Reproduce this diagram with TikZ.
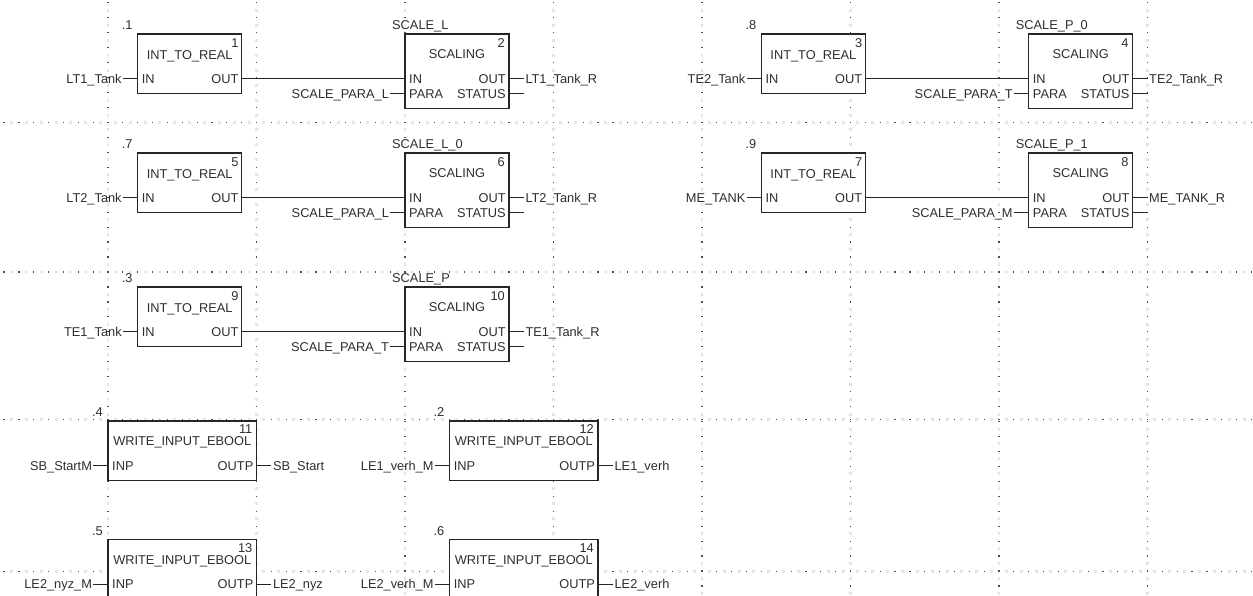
\documentclass[tikz,border=0pt]{standalone}
\usepackage{fontspec}
\setmainfont{Liberation Sans}
\usetikzlibrary{calc}
\tikzset{
  fbbox/.style={draw=black!85, line width=1.3pt, fill=white, rectangle, inner sep=0pt, outer sep=0pt, anchor=north west},
  fbtext/.style={font=\fontsize{12.8}{15}\selectfont, text=black!82, inner sep=0pt, text height=9.2pt, text depth=0pt},
  wire/.style={draw=black!85, line width=1pt},
  gdot/.style={fill=black!70},
  gsmudge/.style={fill=black!10},
}
% INT_TO_REAL block: name, x, y, number, order, input label
\newcommand{\FBitr}[6]{%
  \node[fbbox, minimum width=103.95pt, minimum height=59.8pt] (#1) at (#2,#3) {};
  \node[fbtext] (#1-t) at ($(#1.north)+(0,20.5)$) {INT\_TO\_REAL};
  \node[fbtext, anchor=east] (#1-n) at ($(#1.north east)+(-3,8.5)$) {#4};
  \node[fbtext, anchor=east] (#1-o) at ($(#1.north west)+(-5,-9)$) {#5};
  \coordinate (#1-in) at ($(#1.north west)+(0,44.85)$);
  \coordinate (#1-out) at ($(#1.north east)+(0,44.85)$);
  \node[fbtext, anchor=west] (#1-inp) at ($(#1-in)+(4,0)$) {IN};
  \node[fbtext, anchor=east] (#1-outp) at ($(#1-out)+(-3,0)$) {OUT};
  \coordinate (#1-inw) at ($(#1-in)+(-14.85,0)$);
  \node[fbtext, anchor=east, inner xsep=1pt] (#1-inl) at (#1-inw) {#6};
  \draw[wire] (#1-inw) -- (#1-in);
}
% SCALING block: name, x, y, number, instance, para label, out label
\newcommand{\FBscl}[7]{%
  \node[fbbox, minimum width=103.95pt, minimum height=74.75pt] (#1) at (#2,#3) {};
  \node[fbtext] (#1-t) at ($(#1.north)+(0,20)$) {SCALING};
  \node[fbtext, anchor=east] (#1-n) at ($(#1.north east)+(-4,8.5)$) {#4};
  \node[fbtext, anchor=west] (#1-i) at ($(#1.north west)+(-13,-9)$) {#5};
  \coordinate (#1-in) at ($(#1.north west)+(0,44.85)$);
  \coordinate (#1-para) at ($(#1.north west)+(0,59.8)$);
  \coordinate (#1-out) at ($(#1.north east)+(0,44.85)$);
  \coordinate (#1-stat) at ($(#1.north east)+(0,59.8)$);
  \node[fbtext, anchor=west] (#1-inp) at ($(#1-in)+(4,0)$) {IN};
  \node[fbtext, anchor=west] (#1-parap) at ($(#1-para)+(4,0)$) {PARA};
  \node[fbtext, anchor=east] (#1-outp) at ($(#1-out)+(-3,0)$) {OUT};
  \node[fbtext, anchor=east] (#1-statp) at ($(#1-stat)+(-3,0)$) {STATUS};
  \coordinate (#1-paraw) at ($(#1-para)+(-14.85,0)$);
  \node[fbtext, anchor=east, inner xsep=1pt] (#1-paral) at (#1-paraw) {#6};
  \draw[wire] (#1-paraw) -- (#1-para);
  \coordinate (#1-outw) at ($(#1-out)+(14.85,0)$);
  \node[fbtext, anchor=west, inner xsep=1.5pt] (#1-outl) at (#1-outw) {#7};
  \draw[wire] (#1-out) -- (#1-outw);
  \coordinate (#1-statw) at ($(#1-stat)+(14.85,0)$);
  \draw[wire] (#1-stat) -- (#1-statw);
}
% WRITE_INPUT_EBOOL block: name, x, y, number, order, input label, output label
\newcommand{\FBwie}[7]{%
  \node[fbbox, minimum width=148.5pt, minimum height=59.8pt] (#1) at (#2,#3) {};
  \node[fbtext] (#1-t) at ($(#1.north)+(0,20)$) {WRITE\_INPUT\_EBOOL};
  \node[fbtext, anchor=east] (#1-n) at ($(#1.north east)+(-4,8)$) {#4};
  \node[fbtext, anchor=east] (#1-o) at ($(#1.north west)+(-5,-9)$) {#5};
  \coordinate (#1-in) at ($(#1.north west)+(0,44.85)$);
  \coordinate (#1-out) at ($(#1.north east)+(0,44.85)$);
  \node[fbtext, anchor=west] (#1-inp) at ($(#1-in)+(4,0)$) {INP};
  \node[fbtext, anchor=east] (#1-outp) at ($(#1-out)+(-3,0)$) {OUTP};
  \coordinate (#1-inw) at ($(#1-in)+(-14.85,0)$);
  \node[fbtext, anchor=east, inner xsep=1pt] (#1-inl) at (#1-inw) {#6};
  \draw[wire] (#1-inw) -- (#1-in);
  \coordinate (#1-outw) at ($(#1-out)+(14.85,0)$);
  \node[fbtext, anchor=west, inner xsep=1.5pt] (#1-outl) at (#1-outw) {#7};
  \draw[wire] (#1-out) -- (#1-outw);
}
\begin{document}
\begin{tikzpicture}[x=1pt, y=-1pt]
\useasboundingbox (0,0) rectangle (1253,596);
\clip (0,0) rectangle (1253,596);
\fill[white] (0,0) rectangle (1253,596);
% dotted grid columns
\foreach \i in {0,...,7} {
  \pgfmathsetmacro\cx{108+\i*148.5}
  \foreach \k in {-9,...,32} {
    \pgfmathsetmacro\cy{122.5+\k*14.95}
    \fill[gsmudge] (\cx-1.3,\cy+6) rectangle ++(2.6,3);
    \fill[gdot] (\cx-0.6,\cy-0.6) rectangle ++(1.2,1.2);
  }
}
% dotted grid rows
\foreach \cy in {122.5,272,419.5,571.5} {
  \foreach \k in {-8,...,77} {
    \pgfmathsetmacro\cx{108+\k*14.85}
    \fill[gsmudge] (\cx+5.9,\cy-1.3) rectangle ++(3,2.6);
    \fill[gdot] (\cx-0.6,\cy-0.6) rectangle ++(1.2,1.2);
  }
}
% row 1
\FBitr{b1}{137.7}{34}{1}{.1}{LT1\_Tank}
\FBscl{b2}{405}{34}{2}{SCALE\_L}{SCALE\_PARA\_L}{LT1\_Tank\_R}
\draw[wire] (b1-out) -- (b2-in);
\FBitr{b3}{761.4}{34}{3}{.8}{TE2\_Tank}
\FBscl{b4}{1028.7}{34}{4}{SCALE\_P\_0}{SCALE\_PARA\_T}{TE2\_Tank\_R}
\draw[wire] (b3-out) -- (b4-in);
% row 2
\FBitr{b5}{137.7}{153}{5}{.7}{LT2\_Tank}
\FBscl{b6}{405}{153}{6}{SCALE\_L\_0}{SCALE\_PARA\_L}{LT2\_Tank\_R}
\draw[wire] (b5-out) -- (b6-in);
\FBitr{b7}{761.4}{153}{7}{.9}{ME\_TANK}
\FBscl{b8}{1028.7}{153}{8}{SCALE\_P\_1}{SCALE\_PARA\_M}{ME\_TANK\_R}
\draw[wire] (b7-out) -- (b8-in);
% row 3
\FBitr{b9}{137.7}{287}{9}{.3}{TE1\_Tank}
\FBscl{b10}{405}{287}{10}{SCALE\_P}{SCALE\_PARA\_T}{TE1\_Tank\_R}
\draw[wire] (b9-out) -- (b10-in);
% row 4
\FBwie{b11}{108}{421}{11}{.4}{SB\_StartM}{SB\_Start}
\FBwie{b12}{449.55}{421}{12}{.2}{LE1\_verh\_M}{LE1\_verh}
% row 5
\FBwie{b13}{108}{539.5}{13}{.5}{LE2\_nyz\_M}{LE2\_nyz}
\FBwie{b14}{449.55}{539.5}{14}{.6}{LE2\_verh\_M}{LE2\_verh}
\end{tikzpicture}
\end{document}
